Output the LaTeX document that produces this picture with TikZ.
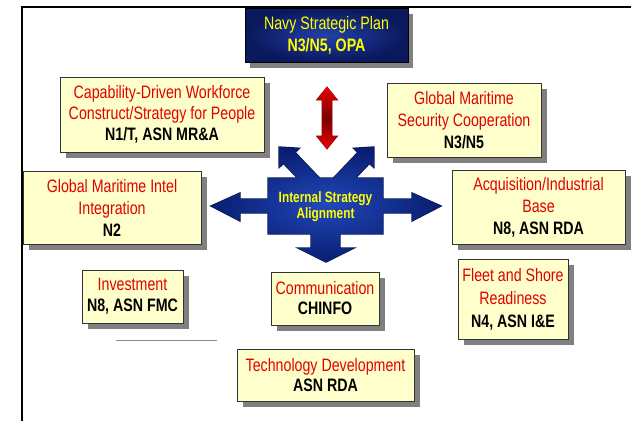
\documentclass[tikz,border=0pt]{standalone}
\usepackage{fontspec}
\setmainfont{Liberation Sans}[FakeStretch=0.79]
\usetikzlibrary{shadows}
\definecolor{boxyellow}{RGB}{255,255,204}
\definecolor{boxred}{RGB}{225,0,0}
\definecolor{navyfill}{RGB}{10,24,92}
\definecolor{navylight}{RGB}{34,64,168}
\definecolor{arrowdark}{RGB}{8,30,112}
\definecolor{arrowlight}{RGB}{34,72,186}
\definecolor{textyellow}{RGB}{255,255,0}
\definecolor{redlight}{RGB}{235,0,0}
\definecolor{reddark}{RGB}{120,0,0}

\begin{document}
\begin{tikzpicture}[x=1pt, y=-1pt,
	infobox/.style={draw=black!80, line width=0.8pt, fill=boxyellow, text=boxred, align=center, inner sep=0pt,
		font=\fontsize{18}{21}\selectfont,
		drop shadow={shadow xshift=6pt, shadow yshift=-6pt, fill=black!50, opacity=1}},
	planbox/.style={draw=black, line width=0.8pt, inner color=navylight, outer color=navyfill, text=textyellow,
		align=center, inner sep=0pt, font=\fontsize{18}{22}\selectfont,
		drop shadow={shadow xshift=5pt, shadow yshift=-6pt, fill=black!50, opacity=1}},
	centertext/.style={text=textyellow, align=center, inner sep=0pt, font=\fontsize{15}{16}\selectfont\bfseries}]
	\useasboundingbox (0,0) rectangle (631,421);
	
	% Frame
	\draw[line width=1.5pt] (22,421) -- (22,7) -- (631,7);
	
	% Plan at the top
	\node[planbox, minimum width=163pt, minimum height=54pt] (navy) at (326.5,35)
		{Navy Strategic Plan\\\textbf{N3/N5, OPA}};
	
	% Red double arrow
	\shade[top color=redlight, bottom color=redlight, middle color=reddark, preaction={draw=reddark, line width=0.8pt}]
		(327,87) -- (337.5,100) -- (332,100) -- (332,136) -- (337.5,136) -- (327,149)
		-- (316.5,136) -- (322,136) -- (322,100) -- (316.5,100) -- cycle;
	
	% Alignment arrows
	\shade[inner color=arrowlight, outer color=arrowdark, preaction={draw=arrowdark!70!black, line width=1.4pt}]
		(308.2,189.3) -- (283.5,163.4) -- (279.2,167.5) -- (279,147) -- (299.4,148.3) -- (295.1,152.4) -- (319.8,178.3) -- cycle
		(333.2,178.3) -- (357.9,152.4) -- (353.6,148.3) -- (374,147) -- (373.8,167.5) -- (369.5,163.4) -- (344.8,189.3) -- cycle
		(270,213) -- (240,213) -- (240,221) -- (211,206) -- (240,193) -- (240,199) -- (270,199) -- cycle
		(381,199) -- (412,199) -- (412,193) -- (441,206) -- (412,221) -- (412,213) -- (381,213) -- cycle
		(340,232) -- (340,248) -- (354,248) -- (326,262) -- (298,248) -- (311,248) -- (311,232) -- cycle
		(268,178) -- (383,178) -- (383,234) -- (268,234) -- cycle;
	\node[centertext] (align) at (325.5,207) {Internal Strategy\\Alignment};
	
	% Areas round the alignment
	\node[infobox, minimum width=204pt, minimum height=75pt] (capab) at (162,114.5)
		{Capability-Driven Workforce\\Construct/Strategy for People\\\textcolor{black}{\textbf{N1/T, ASN MR\&A}}};
	\node[infobox, minimum width=154pt, minimum height=74pt, font=\fontsize{18}{22}\selectfont] (gmsc) at (464,120)
		{Global Maritime\\Security Cooperation\\\textcolor{black}{\textbf{N3/N5}}};
	\node[infobox, minimum width=178pt, minimum height=73pt, font=\fontsize{18}{22}\selectfont] (intel) at (112,207.5)
		{Global Maritime Intel\\Integration\\\textcolor{black}{\textbf{N2}}};
	\node[infobox, minimum width=173pt, minimum height=74pt, font=\fontsize{18}{22}\selectfont] (acq) at (538.5,207)
		{Acquisition/Industrial\\Base\\\textcolor{black}{\textbf{N8, ASN RDA}}};
	\node[infobox, minimum width=101pt, minimum height=53pt] (invest) at (132.5,296.5)
		{Investment\\\textcolor{black}{\textbf{N8, ASN FMC}}};
	\node[infobox, minimum width=108pt, minimum height=53pt, font=\fontsize{18}{20}\selectfont] (comm) at (325,298.5)
		{Communication\\\textcolor{black}{\textbf{CHINFO}}};
	\node[infobox, minimum width=110pt, minimum height=80pt, font=\fontsize{18}{23}\selectfont] (fleet) at (513,299)
		{Fleet and Shore\\Readiness\\\textcolor{black}{\textbf{N4, ASN I\&E}}};
	\node[infobox, minimum width=177pt, minimum height=52pt, font=\fontsize{18}{20}\selectfont] (tech) at (325.5,375)
		{Technology Development\\\textcolor{black}{\textbf{ASN RDA}}};
	
	% Short rule
	\draw[black!45, line width=0.8pt] (116,340) -- (217,340);
\end{tikzpicture}
\end{document}
